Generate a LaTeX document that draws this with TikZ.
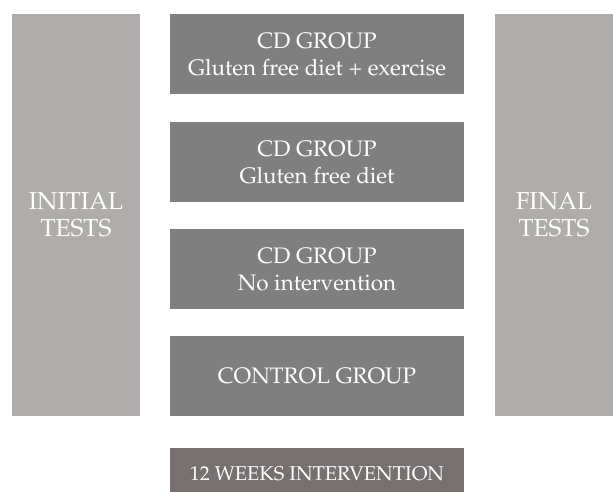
\documentclass[tikz,border=0pt]{standalone}
\usepackage[T1]{fontenc}
\usepackage{mathpazo}
\usetikzlibrary{positioning}
\definecolor{sidegray}{HTML}{B0ACAB}
\definecolor{groupgray}{HTML}{7F7F7F}
\definecolor{weekgray}{HTML}{767170}
\tikzset{
    testbar/.style={fill=sidegray, text=white, inner sep=0pt, align=center, font=\fontsize{24.5}{27}\selectfont},
    groupbox/.style={fill=groupgray, text=white, minimum width=294pt, minimum height=80pt, inner sep=0pt, align=center, font=\fontsize{22.4}{27}\selectfont},
    weekbox/.style={fill=weekgray, text=white, minimum width=294pt, minimum height=44pt, inner sep=0pt, text height=20pt, text depth=0pt, font=\fontsize{20}{22}\selectfont}
}
\begin{document}
\begin{tikzpicture}[x=1pt, y=-1pt]
    \useasboundingbox (0,0) rectangle (613,492);
    % side bars
    \node [testbar, minimum width=128pt, minimum height=402pt] (init) at (76,215) {INITIAL\\TESTS};
    \node [testbar, minimum width=118pt, minimum height=402pt] (final) at (554,215) {FINAL\\TESTS};
    % groups
    \node [groupbox] (cdex) at (317,54) {CD GROUP\\Gluten free diet + exercise};
    \node [groupbox] (cddiet) at (317,162) {CD GROUP\\Gluten free diet};
    \node [groupbox] (cdnone) at (317,269) {CD GROUP\\No intervention};
    \node [groupbox] (control) at (317,376) {CONTROL GROUP};
    % duration
    \node [weekbox] (weeks) at (317,470) {12 WEEKS INTERVENTION};
\end{tikzpicture}
\end{document}
